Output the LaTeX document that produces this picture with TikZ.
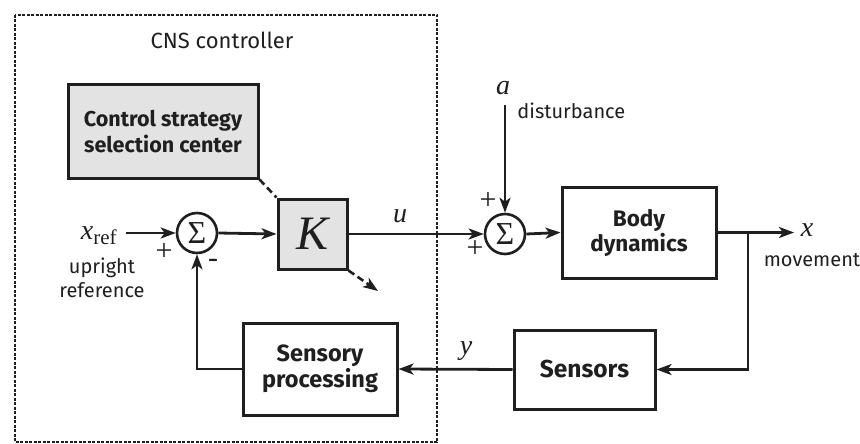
\documentclass[tikz,border=0pt]{standalone}
\usepackage{fontspec}
\setmainfont{Fira Sans}
\newfontfamily\serifrm{Liberation Serif}
\usetikzlibrary{arrows.meta}
\begin{document}
\begin{tikzpicture}[x=1pt,y=-1pt,
  line width=2.8pt, color=black!88,
  blk/.style={draw, line width=3pt, align=center, font=\bfseries\fontsize{22.5}{25}\selectfont, inner sep=0pt},
  graybk/.style={blk, fill=gray!22},
  sumnode/.style={draw, circle, line width=2.6pt, minimum size=40pt, inner sep=0pt, font=\serifrm\fontsize{32}{32}\selectfont},
  arr/.style={-{Stealth[length=15pt,width=11pt,inset=4pt]}},
  lbl/.style={font=\fontsize{20}{24}\selectfont, align=center, inner sep=0pt},
  var/.style={font=\serifrm\itshape\fontsize{28}{28}\selectfont, inner sep=0pt},
  sgn/.style={font=\serifrm\fontsize{30}{30}\selectfont, inner sep=0pt},
  dsh/.style={line width=2.6pt, dash pattern=on 7pt off 4pt},
  cnsbox/.style={draw, line width=2.4pt, dash pattern=on 3pt off 1.5pt}]
\useasboundingbox (0,0) rectangle (860,444);
\draw[cnsbox] (15,15) rectangle (437,442);
\node[font=\fontsize{22}{26}\selectfont] (cns) at (222,40) {CNS controller};

\node[graybk, minimum width=190pt, minimum height=93pt, font=\bfseries\fontsize{21.5}{26}\selectfont] (css) at (163,131.5) {Control strategy\\selection center};
\node[graybk, minimum width=69pt, minimum height=70pt, font=\serifrm\itshape\fontsize{48}{48}\selectfont] (K) at (312.5,234) {K};
\node[sumnode] (s1) at (197,233) {Σ};
\node[sumnode] (s2) at (505,234) {Σ};
\node[blk, minimum width=154pt, minimum height=91pt] (body) at (639,232.5) {Body\\dynamics};
\node[blk, minimum width=154pt, minimum height=92pt, font=\bfseries\fontsize{23.5}{26}\selectfont] (sp) at (320,369) {Sensory\\processing};
\node[blk, minimum width=141pt, minimum height=79pt, font=\bfseries\fontsize{24.5}{26}\selectfont] (sens) at (584.5,369.5) {Sensors};

% input
\node[var, anchor=east] (xref) at (118,236) {x\fontsize{21}{21}\selectfont\upshape\raisebox{-5pt}{ref}};
\coordinate (xin) at (126,233);
\node[lbl] (upr) at (102,278) {upright\\reference};
\node[sgn] (p1) at (164,252) {+};
\node[sgn] (m1) at (213,263) {-};
\draw[arr] (xin) -- (s1.west);
\draw[arr] (s1.east) -- (K.west);
\draw[arr] (K.east) -- (s2.west);
\node[var] (u) at (400,216) {u};

% disturbance
\node[var] (a) at (503,88) {a};
\coordinate (ain) at (505,105);
\node[lbl, anchor=west] (dist) at (516,111) {disturbance};
\draw[arr] (ain) -- (s2.north);
\node[sgn] (p2) at (488,201) {+};
\node[sgn] (p3) at (475,249) {+};
\draw[arr] (s2.east) -- (body.west);

% output
\coordinate (br) at (748,232.5);
\coordinate (xout) at (794,232.5);
\draw[arr] (body.east) -- (xout);
\node[var] (x) at (807,230) {x};
\node[lbl] (mov) at (812,260) {movement};
\draw[arr] (br) |- (sens.east);
\draw[arr] (sens.west) -- (sp.east);
\node[var] (y) at (466,351) {y};
\coordinate (fb) at (197,369);
\draw[arr] (sp.west) -- (fb) -- (s1.south);

% dashed links
\draw[dsh] (css.south east) -- (K.north west);
\coordinate (kout) at (378,291);
\draw[dsh, arr] (K.south east) -- (kout);
\end{tikzpicture}
\end{document}
